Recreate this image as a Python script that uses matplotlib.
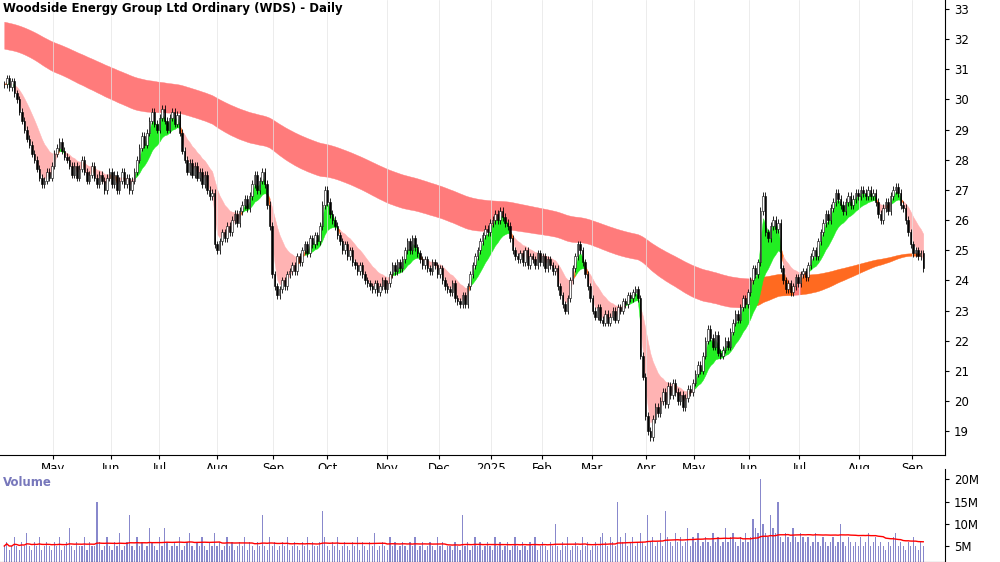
import numpy as np
import pandas as pd
import matplotlib
matplotlib.use("Agg")
import matplotlib.pyplot as plt

closes = [30.5,30.7,30.4,30.6,30.2,30.0,29.6,29.3,29.0,28.7,28.5,28.2,28.0,27.7,27.4,27.2,27.3,27.6,27.4,
 27.8,28.2,28.4,28.6,28.3,28.1,28.0,27.8,
 27.5,27.8,27.4,27.7,28.0,27.6,27.3,27.5,27.8,27.4,27.2,27.5,
 27.3,27.0,27.4,27.6,27.2,27.5,27.0,27.3,27.6,27.2,27.4,27.0,27.3,27.6,
 28.0,28.4,28.8,28.5,28.9,29.3,
 29.6,29.2,29.0,29.4,29.7,29.3,29.0,29.4,29.6,29.2,29.5,28.9,
 28.3,28.0,27.6,27.9,27.5,27.8,27.4,27.6,27.2,27.5,27.0,26.8,26.9,
 25.2,25.0,25.3,25.6,25.4,25.8,25.6,26.0,26.2,25.9,26.3,
 26.5,26.7,26.4,26.8,27.2,27.5,27.0,27.3,27.6,27.2,26.5,
 25.8,24.2,23.8,23.5,23.7,24.0,23.8,24.2,24.3,
 24.5,24.3,24.8,24.6,25.0,25.2,24.9,25.4,25.2,25.5,25.3,25.8,
 26.5,27.0,26.6,26.2,26.0,25.8,25.5,25.3,25.0,25.2,
 24.8,25.0,24.6,24.5,24.3,24.5,24.2,24.0,
 23.9,23.8,23.7,23.9,23.6,23.8,24.0,23.7,23.9,24.2,24.5,24.3,24.6,24.4,
 24.7,25.0,25.3,25.0,25.4,25.1,24.9,24.7,
 24.5,24.7,24.4,24.3,24.6,24.5,24.2,24.4,
 24.0,23.8,23.7,23.6,23.9,23.4,23.3,23.2,23.5,23.2,
 23.8,24.2,24.5,24.8,25.0,25.3,25.5,25.7,25.6,25.9,26.0,26.2,
 26.0,26.3,26.1,25.9,25.8,25.4,25.0,24.8,
 24.7,24.9,24.6,25.0,24.5,24.8,24.7,24.5,24.9,24.6,24.8,24.4,24.7,24.5,24.3,24.4,
 23.8,23.5,23.2,23.0,23.4,24.0,
 24.4,24.8,25.2,25.0,24.6,
 24.2,23.8,23.4,23.0,22.8,23.1,22.7,
 22.6,22.9,22.6,22.8,23.0,22.7,23.1,23.0,23.3,23.2,23.5,23.4,23.6,23.7,23.4,
 21.5,20.8,19.5,19.0,18.8,
 19.4,19.8,19.6,20.0,20.3,19.9,20.5,20.2,20.6,20.3,20.0,20.2,19.8,20.1,20.4,20.3,
 20.6,20.9,21.2,21.0,21.5,22.0,22.4,22.1,21.8,22.2,21.6,21.5,
 21.7,22.0,21.8,22.3,22.6,22.9,22.7,23.1,23.4,23.2,23.6,24.0,24.4,24.2,24.6,
 26.3,26.8,25.6,25.4,25.8,26.0,25.7,25.9,
 24.4,24.0,23.7,23.9,23.6,23.8,24.1,23.9,24.2,
 24.3,24.1,24.5,24.8,25.0,24.8,25.3,25.6,25.9,26.2,26.0,26.4,
 26.6,26.9,26.7,26.5,26.3,26.6,26.8,26.5,26.7,26.9,26.8,27.0,26.9,26.8,27.0,26.8,
 26.9,26.6,26.2,26.0,26.4,26.6,26.3,26.8,27.0,27.1,26.9,26.5,
 26.4,26.0,25.6,25.2,24.9,25.0,24.8,24.9,24.4]

volumes = [5,6,4,5,7,5,4,6,5,8,5,4,6,5,7,4,5,6,5,4,
 6,5,7,4,5,6,9,5,4,6,5,5,7,4,6,5,5,15,6,4,
 5,7,5,4,6,5,8,4,5,6,12,5,4,7,5,6,4,5,9,6,
 5,4,7,5,9,6,4,5,6,5,7,4,5,6,8,5,4,6,5,7,
 5,4,6,5,8,5,6,4,5,7,5,6,4,5,6,5,7,4,6,5,
 4,6,5,12,5,4,7,5,6,4,5,6,5,7,4,5,6,5,4,6,
 5,7,4,6,5,5,6,13,7,5,4,6,5,7,4,5,6,5,4,6,
 5,7,4,6,5,4,6,5,8,4,5,6,5,4,7,5,6,4,5,6,
 5,4,6,5,7,4,5,6,4,5,6,5,4,7,5,6,4,5,5,4,
 6,5,4,12,5,6,4,5,7,5,6,4,5,6,5,4,7,5,6,4,
 5,6,4,5,7,5,4,6,5,4,6,5,7,4,5,6,5,4,6,5,
 10,5,4,6,5,7,4,5,6,5,4,7,5,6,4,5,6,5,7,8,
 6,5,7,6,5,15,7,6,8,5,6,7,5,6,8,6,5,12,6,7,
 5,6,8,5,13,7,6,5,8,6,7,5,6,9,5,7,6,8,5,6,
 7,6,5,8,6,7,5,6,9,6,7,8,6,5,7,6,8,6,7,11,
 9,8,20,10,8,7,12,9,8,15,7,6,8,7,6,9,7,6,8,7,
 6,7,5,6,8,6,5,7,6,5,6,7,5,6,10,6,5,7,6,5,
 6,5,7,5,6,8,5,6,7,5,6,5,4,6,5,7,8,5,6,5,
 4,6,5,7,5,4,6,5]
volumes = (volumes + [5]*len(closes))[:len(closes)]

month_labels = ["May","Jun","Jul","Aug","Sep","Oct","Nov","Dec","2025","Feb","Mar","Apr","May","Jun","Jul","Aug","Sep"]
month_px = [52,110,158,216,272,326,386,438,490,541,591,645,693,748,798,858,911]

long_seed = (32.6, 31.7)
short_seed = 30.5

c = pd.Series(closes, dtype=float)
v = np.array(volumes, dtype=float)
N = len(c)
x = np.arange(N)
o = np.r_[closes[0], c.values[:-1]]

def ema(s, span, seed):
    a = 2/(span+1); out=[]; p=seed
    for val in s:
        p = p + a*(val-p); out.append(p)
    return np.array(out)

lt = ema(c, 210, long_seed[0])
lb = ema(c, 140, long_seed[1])
ltop = np.maximum(lt, lb); lbot = np.minimum(lt, lb)
sf = ema(c, 3, short_seed)
ss = ema(c, 15, short_seed)
stop = np.maximum(sf, ss); sbot = np.minimum(sf, ss)

fig = plt.figure(figsize=(10, 5.62), dpi=100)
ax = fig.add_axes([0.0, 0.19, 0.945, 0.81])
axv = fig.add_axes([0.0, 0.0, 0.945, 0.165])

def seg_fill(lo, hi, colors):
    i = 0
    while i < N-1:
        j = i
        while j+1 < N-1 and colors[j+1] == colors[i]:
            j += 1
        sl = slice(i, j+2)
        ax.fill_between(x[sl], lo[sl], hi[sl], color=colors[i], lw=0.3, edgecolor=colors[i], zorder=1)
        i = j+1

cmax = c.rolling(5, min_periods=1).max().values
lcol = ["#ff6a20" if (cmax[i] > ltop[i] and i > N*0.7) else "#ff7b7b" for i in range(N)]
seg_fill(lbot, ltop, lcol)

scol = []
for i in range(N):
    rising = ss[i] > ss[i-1] if i > 0 else False
    if sf[i] > ss[i] and rising:
        scol.append("#22ee22")
    elif sf[i] < ss[i] and not rising:
        scol.append("#ffb3b3")
    else:
        scol.append("#ff6a20")
seg_fill(sbot, stop, scol)

for i in range(N):
    hi = max(o[i], c[i]) + 0.12; lo = min(o[i], c[i]) - 0.12
    ax.vlines(x[i], lo, hi, color="black", lw=0.6, zorder=3)
    up = c[i] >= o[i]
    h = abs(c[i]-o[i]) or 0.03
    ax.add_patch(plt.Rectangle((x[i]-0.3, min(o[i], c[i])), 0.6, h,
                 facecolor="white" if up else "black", edgecolor="black", lw=0.4, zorder=4))

scale = (N-1)/919.0
xmin = -3*scale - 0.5
xmax = xmin + 945*scale
ax.set_xlim(xmin, xmax); axv.set_xlim(xmin, xmax)
ax.set_ylim(18.2, 33.3)
ax.yaxis.tick_right()
ax.set_yticks(range(19, 34))
ax.set_xticks([(p-3)*scale for p in month_px])
ax.set_xticklabels(month_labels, fontsize=8.5)
ax.tick_params(axis='x', length=3, pad=2)
ax.tick_params(axis='y', labelsize=8.5, length=3)
ax.grid(axis='x', color="#e4e4e4", lw=0.5)
ax.text(0.003, 0.995, "Woodside Energy Group Ltd Ordinary (WDS) - Daily", transform=ax.transAxes,
        va='top', ha='left', fontsize=8.5, fontweight='bold')
for a in (ax, axv):
    a.spines['top'].set_visible(False); a.spines['left'].set_visible(False)

axv.bar(x, v, width=0.5, color="#8888cc")
axv.plot(x, pd.Series(v).rolling(50, min_periods=1).mean(), color="red", lw=1)
axv.set_ylim(1.4, 22.3)
axv.yaxis.tick_right()
axv.set_yticks([5,10,15,20]); axv.set_yticklabels(["5M","10M","15M","20M"])
axv.tick_params(axis='y', labelsize=8.5, length=3)
axv.set_xticks([])
axv.grid(axis='x', color="#e4e4e4", lw=0.5)
axv.text(0.003, 0.93, "Volume", transform=axv.transAxes, va='top', fontsize=8.5,
         fontweight='bold', color="#7777bb")
fig.savefig("out.png", dpi=100)
